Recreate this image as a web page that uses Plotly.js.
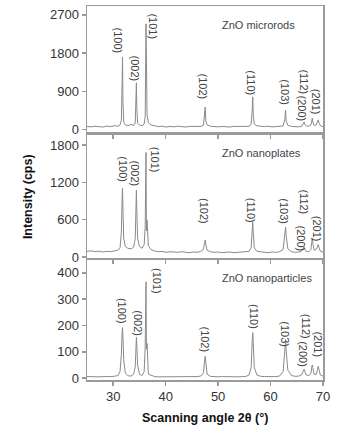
<!DOCTYPE html>
<html>
<head>
<meta charset="utf-8">
<script src="https://cdn.plot.ly/plotly-3.0.1.min.js"></script>
<style>html,body{margin:0;padding:0;background:#fff;}#chart{width:342px;height:439px;}</style>
</head>
<body>
<div id="chart"></div>
<script>
// Scanning angle 2θ (degrees), shared by all three patterns
const angle = [
  25, 25.8, 26.5, 27.3, 28, 28.8, 29.5, 30.2, 30.9, 31.3,
  31.55, 31.7, 31.77, 31.85, 32.0,
  32.3, 32.8, 33.4, 33.9, 34.2,
  34.35, 34.42, 34.5, 34.65,
  35.0, 35.5, 35.9, 36.1,
  36.25, 36.33, 36.45, 36.7,
  37.2, 37.9, 38.6, 39.3, 40, 40.8, 41.5, 42.3, 43, 43.8, 44.5, 45.3, 46, 46.7, 47.2,
  47.42, 47.54, 47.66, 47.9,
  48.5, 49.2, 50, 50.7, 51.5, 52.2, 53, 53.7, 54.5, 55.2, 55.9, 56.3,
  56.5, 56.6, 56.7, 56.9,
  57.4, 58.1, 58.8, 59.5, 60.3, 61, 61.7, 62.4,
  62.74, 62.86, 62.98, 63.3,
  64, 64.7, 65.4, 66.0,
  66.25, 66.38, 66.5, 66.8,
  67.3, 67.7,
  67.85, 67.96, 68.07, 68.3,
  68.7,
  68.98, 69.1, 69.22, 69.5,
  70
];

// ZnO microrods intensity (cps)
const microrods = [
  75, 65, 80, 70, 60, 85, 70, 90, 80, 110,
  220, 1100, 1710, 700, 170,
  110, 95, 120, 100, 160,
  700, 1100, 500, 150,
  110, 90, 130, 300,
  2490, 1200, 350, 160,
  110, 90, 70, 80, 60, 75, 65, 80, 70, 60, 75, 70, 80, 75, 100,
  330, 530, 200, 110,
  80, 70, 65, 75, 70, 60, 75, 70, 65, 75, 80, 120,
  450, 770, 350, 130,
  90, 75, 70, 80, 65, 70, 75, 90,
  250, 460, 200, 100,
  75, 70, 65, 85,
  140, 180, 130, 85,
  80, 110,
  200, 270, 180, 100,
  110,
  190, 230, 160, 90,
  70
];

// ZnO nanoplates intensity (cps)
const nanoplates = [
  90, 100, 85, 95, 80, 90, 85, 95, 110, 150,
  400, 950, 1104, 800, 300,
  170, 140, 130, 160, 300,
  900, 1072, 750, 300,
  170, 140, 200, 500,
  1680, 420, 590, 180,
  120, 95, 85, 90, 75, 85, 80, 75, 85, 80, 70, 80, 75, 90, 120,
  230, 272, 200, 110,
  85, 75, 80, 70, 75, 80, 70, 75, 80, 75, 90, 150,
  450, 560, 400, 150,
  90, 80, 75, 70, 80, 75, 85, 120,
  380, 480, 340, 130,
  85, 75, 80, 100,
  140, 160, 130, 90,
  85, 120,
  230, 300, 220, 110,
  120,
  180, 200, 160, 90,
  80
];

// ZnO nanoparticles intensity (cps)
const nanoparticles = [
  6, 5, 6, 5, 6, 5, 6, 7, 10, 25,
  90, 175, 192, 160, 70,
  20, 9, 8, 15, 45,
  130, 155, 125, 50,
  15, 10, 25, 120,
  366, 110, 132, 15,
  10, 6, 5, 5, 6, 5, 5, 6, 5, 5, 6, 5, 6, 8, 20,
  65, 83, 60, 15,
  7, 5, 5, 6, 5, 5, 6, 5, 6, 6, 12, 40,
  140, 173, 135, 40,
  12, 7, 6, 5, 6, 6, 8, 25,
  110, 139, 105, 30,
  10, 7, 8, 15,
  28, 34, 27, 12,
  10, 18,
  42, 50, 40, 15,
  14,
  38, 45, 34, 12,
  8
];

// Reflection labels
const hkl = ["(100)", "(002)", "(101)", "(102)", "(110)", "(103)", "(200)", "(112)", "(201)"];
// label centres (angle, intensity) for each panel
const labTopX = [30.9, 34.15, 37.6, 47.3, 56.3, 62.6, 66.0, 66.2, 68.7];
const labTopY = [2098, 1439, 2427, 1015, 1109, 874, 497, 1133, 650];
const labMidX = [31.7, 34.15, 38.0, 47.3, 56.3, 62.4, 65.8, 66.2, 68.9];
const labMidY = [1407, 1342, 1559, 740, 756, 732, 298, 892, 450];
const labBotX = [31.7, 34.7, 38.2, 47.5, 56.85, 62.6, 66.2, 66.8, 69.05];
const labBotY = [255, 209, 368, 147, 236, 166, 91, 198, 128];

const sampleNames = ["ZnO microrods", "ZnO nanoplates", "ZnO nanoparticles"];
const xTicks = [30, 40, 50, 60, 70];
const yTicksTop = [0, 900, 1800, 2700];
const yTicksMid = [0, 600, 1200, 1800];
const yTicksBot = [0, 100, 200, 300, 400];

const FONT = "Liberation Sans, Arial, Helvetica, sans-serif";
const lineCol = "#8a8a8a";
const axCol = "#9a9a9a";
const txtCol = "#333";

const traces = [
  {x: angle, y: nanoparticles, xaxis: "x", yaxis: "y"},
  {x: angle, y: nanoplates, xaxis: "x2", yaxis: "y2"},
  {x: angle, y: microrods, xaxis: "x3", yaxis: "y3"}
].map(t => Object.assign(t, {type: "scatter", mode: "lines", line: {color: lineCol, width: 1}, showlegend: false, hoverinfo: "skip"}));

function xax(anchor, labels) {
  return {
    anchor: anchor, range: [25, 70], tickvals: xTicks, showticklabels: labels,
    ticks: "outside", ticklen: 4, tickwidth: 1.5, tickcolor: axCol,
    showline: true, linecolor: axCol, linewidth: 1.5, mirror: true,
    showgrid: false, zeroline: false,
    tickfont: {family: FONT, size: 13, color: txtCol}
  };
}
function yax(domain, range, ticks) {
  return {
    domain: domain, range: range, tickvals: ticks,
    ticks: "outside", ticklen: 4, tickwidth: 1.5, tickcolor: axCol,
    showline: true, linecolor: axCol, linewidth: 1.5, mirror: true,
    showgrid: false, zeroline: false,
    tickfont: {family: FONT, size: 13, color: txtCol}
  };
}

const annotations = [];
function addLabels(xs, ys, xr, yr) {
  hkl.forEach((t, i) => annotations.push({
    text: t, x: xs[i], y: ys[i], xref: xr, yref: yr, showarrow: false, textangle: 90,
    font: {family: FONT, size: 11, color: "#444"}
  }));
}
addLabels(labTopX, labTopY, "x3", "y3");
addLabels(labMidX, labMidY, "x2", "y2");
addLabels(labBotX, labBotY, "x", "y");

annotations.push({text: sampleNames[0], x: 50.4, y: 2463, xref: "x3", yref: "y3", xanchor: "left", showarrow: false, font: {family: FONT, size: 11, color: "#444"}});
annotations.push({text: sampleNames[1], x: 50.4, y: 1672, xref: "x2", yref: "y2", xanchor: "left", showarrow: false, font: {family: FONT, size: 11, color: "#444"}});
annotations.push({text: sampleNames[2], x: 50.4, y: 381, xref: "x", yref: "y", xanchor: "left", showarrow: false, font: {family: FONT, size: 11, color: "#444"}});

annotations.push({text: "<b>Intensity (cps)</b>", xref: "paper", yref: "paper", x: -0.25, y: 0.489, xanchor: "center", yanchor: "middle", textangle: -90, showarrow: false, font: {family: FONT, size: 12.5, color: "#111"}});
annotations.push({text: "<b>Scanning angle 2θ (°)</b>", xref: "paper", yref: "paper", x: 0.5, y: -0.102, xanchor: "center", yanchor: "middle", showarrow: false, font: {family: FONT, size: 12.5, color: "#111"}});

const layout = {
  width: 342, height: 439,
  margin: {l: 87, r: 19, t: 6, b: 59},
  paper_bgcolor: "#fff", plot_bgcolor: "#fff",
  xaxis: xax("y", true),
  xaxis2: xax("y2", false),
  xaxis3: xax("y3", false),
  yaxis: yax([0, 0.3209], [-7, 449], yTicksBot),
  yaxis2: yax([0.3254, 0.6578], [-21, 1977], yTicksMid),
  yaxis3: yax([0.6604, 1], [-80, 2910], yTicksTop),
  annotations: annotations
};

Plotly.newPlot("chart", traces, layout, {staticPlot: true, displayModeBar: false});
</script>
</body>
</html>
